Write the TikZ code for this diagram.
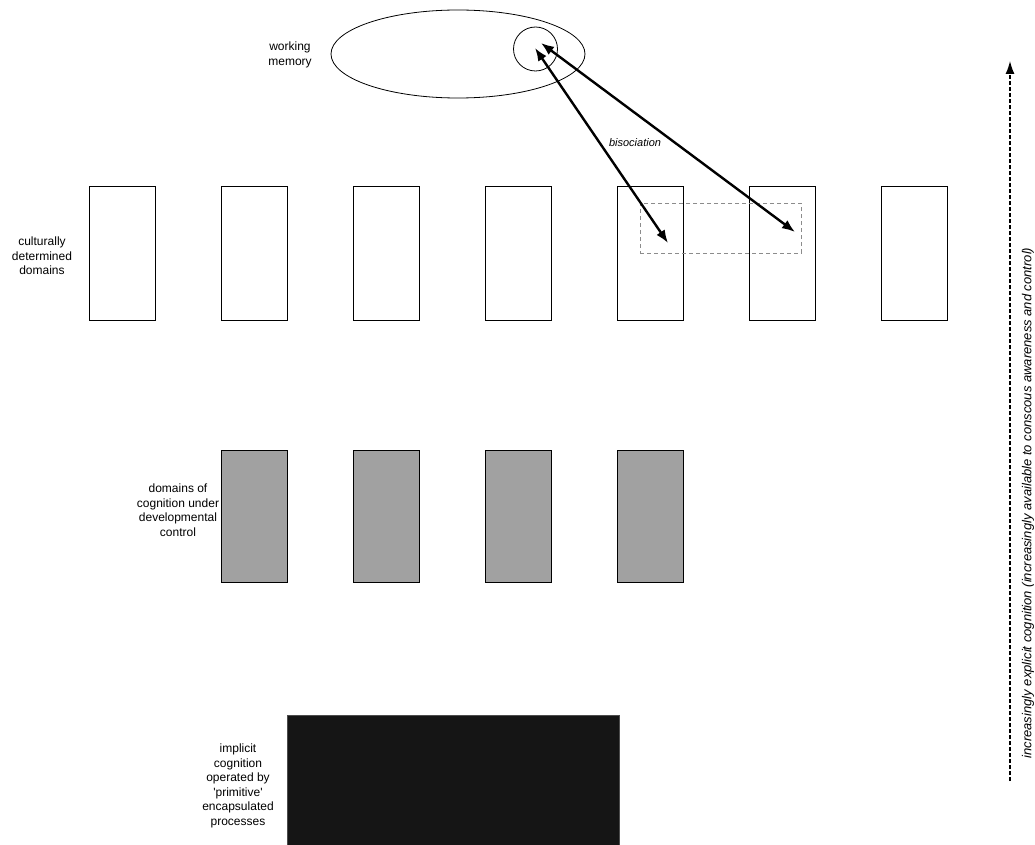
\documentclass[tikz,border=0pt]{standalone}
\usepackage{fontspec}
\setmainfont{Liberation Sans}
\usetikzlibrary{arrows.meta,shapes.geometric}
\tikzset{dombox/.style={draw,line width=.8pt,minimum width=66pt,minimum height=134pt,inner sep=0pt},
lbl/.style={align=center,font=\fontsize{12}{14.5}\selectfont}}
\begin{document}
\begin{tikzpicture}[x=1pt,y=-1pt,>={Latex[length=13pt,width=10pt]}]
\useasboundingbox (0,0) rectangle (1035,845);
% working memory
\node[draw,ellipse,line width=.8pt,minimum width=254pt,minimum height=88pt] (wm) at (458,54){};
\node[draw,circle,line width=.8pt,minimum size=44pt,inner sep=0pt] (focus) at (535.5,49){};
\node[lbl] (wmlabel) at (290,55){working\\memory};
% culturally determined domains
\foreach \i in {0,...,6}{\node[dombox] (c\i) at ({122+132*\i},253){};}
\node[lbl] (clabel) at (42,256){culturally\\determined\\domains};
% developmental domains
\foreach \i in {1,...,4}{\node[dombox,fill={rgb,255:red,161;green,161;blue,161},minimum height=132pt] (g\i) at ({122+132*\i},516){};}
\node[lbl] (glabel) at (178,510){domains of\\cognition under\\developmental\\control};
% implicit cognition
\node[draw=black!70,fill={rgb,255:red,21;green,21;blue,21},minimum width=332pt,minimum height=140pt,inner sep=0pt] (impl) at (453,785){};
\node[lbl] (ilabel) at (238,786){implicit\\cognition\\operated by\\\textquotesingle primitive\textquotesingle\\encapsulated\\processes};
% bisociation
\node[draw=black!45,dashed,dash pattern=on 4pt off 3pt,line width=.8pt,minimum width=161pt,minimum height=50pt,inner sep=0pt] (pair) at (720.5,228){};
\coordinate (f1) at (535,48);\coordinate (f2) at (541,43);\coordinate (d1) at (668,243);\coordinate (d2) at (795,232);
\draw[<->,line width=2.4pt] (f1)--(d1);\draw[<->,line width=2.4pt] (f2)--(d2);
\node[font=\fontsize{11}{13}\selectfont\itshape] (bis) at (635,143){bisociation};
% explicitness axis
\coordinate (lo) at (1010,781);\coordinate (hi) at (1010,61);
\draw[->,line width=1.3pt,dash pattern=on 4pt off 2pt,>={Latex[length=13pt,width=9pt]}] (lo)--(hi);
\node[rotate=90,font=\fontsize{13}{15}\selectfont\itshape] (axis) at (1028,503){increasingly explicit cognition (increasingly available to conscous awareness and control)};
\end{tikzpicture}
\end{document}
